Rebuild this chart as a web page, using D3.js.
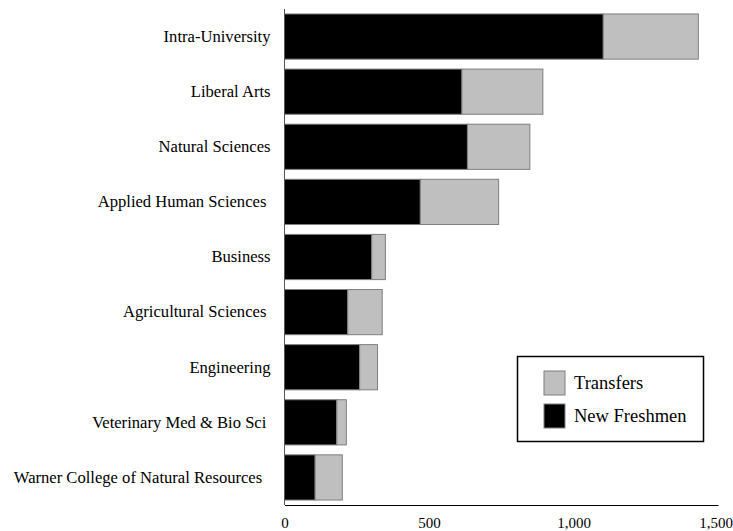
<!DOCTYPE html>
<html><head><meta charset="utf-8">
<script src="https://cdn.jsdelivr.net/npm/d3@7"></script>
<style>body{margin:0;background:#fff}svg{display:block}</style>
</head><body>
<svg id="chart" width="733" height="531"></svg>
<script>
const categories = ["Intra-University","Liberal Arts","Natural Sciences","Applied Human Sciences ","Business","Agricultural Sciences ","Engineering","Veterinary Med & Bio Sci ","Warner College of Natural Resources  "];
const newFreshmen = [1103, 614, 633, 470, 302, 219, 260, 181, 106];
const transfers = [329, 280, 216, 271, 47, 119, 62, 33, 94];
const xTicks = [0, 500, 1000, 1500];
const seriesNames = ["Transfers", "New Freshmen"];

const svg = d3.select("#chart");
const x = d3.scaleLinear().domain([0, 1500]).range([284.5, 718]);
const y = d3.scaleBand().domain(categories).range([9, 505]).paddingInner(0.18).paddingOuter(0.09);
const labelFont = '"Liberation Serif", serif';

const rows = categories.map((c, i) => ({c, nf: newFreshmen[i], tr: transfers[i]}));

const g = svg.append("g");
g.selectAll("rect.nf").data(rows).join("rect")
  .attr("x", x(0)).attr("y", d => y(d.c))
  .attr("width", d => x(d.nf) - x(0)).attr("height", y.bandwidth())
  .attr("fill", "#000").attr("stroke", "#7f7f7f").attr("stroke-width", 1);
g.selectAll("rect.tr").data(rows).join("rect")
  .attr("x", d => x(d.nf)).attr("y", d => y(d.c))
  .attr("width", d => x(d.nf + d.tr) - x(d.nf)).attr("height", y.bandwidth())
  .attr("fill", "#bfbfbf").attr("stroke", "#7f7f7f").attr("stroke-width", 1);

// y axis
const yAxis = svg.append("g").attr("transform", `translate(${x(0)},0)`)
  .call(d3.axisLeft(y).tickSize(0).tickPadding(14));
yAxis.select(".domain").attr("stroke", "#555").attr("d", `M0,9V505`);
yAxis.selectAll("text").style("font-family", labelFont).style("font-size", "16.6px")
  .attr("fill", "#000").style("white-space", "pre");

// x axis
const xAxis = svg.append("g").attr("transform", "translate(0,505)")
  .call(d3.axisBottom(x).tickValues(xTicks).tickSize(0).tickPadding(12).tickFormat(d3.format(",")));
xAxis.select(".domain").attr("stroke", "#000").attr("stroke-width", 1.2);
xAxis.selectAll("text").style("font-family", labelFont).style("font-size", "15px").attr("fill", "#000");
xAxis.selectAll(".tick").filter(d => d === 1500).select("text")
  .attr("text-anchor", "end").attr("x", 14.5);

// legend
const leg = svg.append("g");
leg.append("rect").attr("x", 517.5).attr("y", 356.5).attr("width", 186).attr("height", 85)
  .attr("fill", "#fff").attr("stroke", "#000").attr("stroke-width", 1.5);
const legColors = ["#bfbfbf", "#000"];
seriesNames.forEach((n, i) => {
  leg.append("rect").attr("x", 544).attr("y", 371 + i * 33).attr("width", 21).attr("height", 24)
    .attr("fill", legColors[i]).attr("stroke", "#7f7f7f");
  leg.append("text").attr("x", 574).attr("y", 389 + i * 33).text(n)
    .style("font-family", labelFont).style("font-size", "18.5px").attr("fill", "#000");
});
</script>
</body></html>
